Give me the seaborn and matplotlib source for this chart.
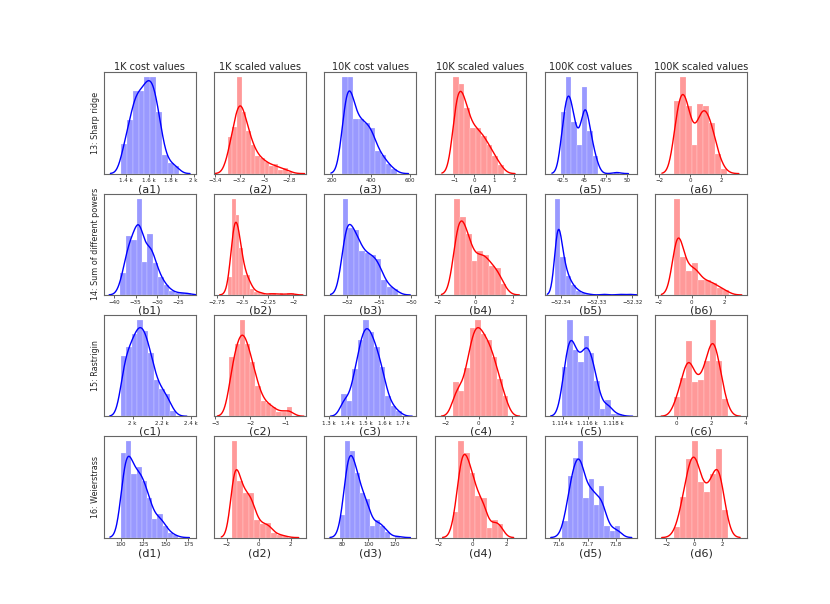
import numpy as np
import matplotlib
matplotlib.use("Agg")
import matplotlib.pyplot as plt
from matplotlib.ticker import EngFormatter
import seaborn as sns

col_titles = ["1K cost values", "1K scaled values", "10K cost values",
              "10K scaled values", "100K cost values", "100K scaled values"]
row_names = ["13: Sharp ridge", "14: Sum of different powers",
             "15: Rastrigin", "16: Weierstrass"]
row_letters = ["a", "b", "c", "d"]
n_runs = 200

# histogram: left edge of first bin, bin width, bar heights
sharp_ridge_start = [1355, -3.295, 252, -1.05, 42.22, -1.07]
sharp_ridge_width = [52, 0.037, 28, 0.28, 0.63, 0.38]
sharp_ridge_heights = [
    [87, 157, 245, 245, 288, 288, 183, 57, 30, 22],
    [110, 135, 288, 185, 125, 85, 50, 43, 35, 20, 30, 10, 18, 7],
    [283, 285, 162, 162, 145, 135, 70, 55, 30, 15],
    [288, 268, 195, 137, 137, 110, 85, 55, 25],
    [182, 288, 153, 85, 258, 125, 50, 0, 0, 0, 5],
    [218, 288, 205, 90, 212, 200, 150, 60, 18],
]
sharp_ridge_ticks = [[1400, 1600, 1800, 2000], [-3.4, -3.2, -3.0, -2.8],
                     [200, 400, 600], [-2, -1, 0, 1, 2],
                     [42.5, 45, 47.5, 50], [-2, 0, 2]]
sharp_ridge_xlim = [(1202, 2019), (-3.406, -2.666), (158.7, 631),
                    (-1.985, 2.615), (40.33, 51.19), (-2.28, 3.65)]

powers_start = [-38.6, -2.64, -52.125, -1.12, -52.3415, -1.07]
powers_width = [1.27, 0.036, 0.172, 0.31, 0.00144, 0.37]
powers_heights = [
    [63, 173, 163, 285, 98, 178, 93, 53, 28, 12, 8, 8, 4],
    [53, 288, 240, 140, 60, 58, 18, 8, 10, 5, 0, 5, 5, 0, 5, 0, 5, 5, 0],
    [288, 205, 198, 130, 128, 120, 108, 42, 28, 18],
    [285, 228, 180, 98, 133, 120, 88, 80, 28],
    [288, 113, 58, 28, 13, 6, 3, 0, 0, 3, 0, 0, 3, 0, 3, 0],
    [288, 113, 73, 93, 43, 43, 38, 23, 13],
]
powers_ticks = [[-40, -35, -30, -25], [-2.75, -2.5, -2.25, -2.0],
                [-52, -51, -50], [-2, 0, 2],
                [-52.34, -52.33, -52.32], [-2, 0, 2]]
powers_xlim = [(-42.5, -20.94), (-2.78, -1.878), (-52.7, -49.84),
               (-2.175, 2.74), (-52.3444, -52.3188), (-2.2, 3.33)]

rastrigin_start = [1920, -2.6, 1364, -1.54, 1113.92, -0.18]
rastrigin_width = [37.5, 0.15, 30, 0.33, 0.435, 0.35]
rastrigin_heights = [
    [180, 203, 243, 288, 255, 188, 108, 83, 68, 18],
    [173, 218, 288, 218, 163, 93, 43, 40, 23, 10, 13, 23],
    [66, 43, 135, 213, 273, 236, 198, 138, 53, 26, 13],
    [96, 73, 133, 248, 270, 233, 216, 168, 108, 58],
    [148, 288, 198, 163, 243, 190, 103, 21, 51, 8, 4],
    [58, 113, 216, 98, 103, 158, 275, 158, 48],
]
rastrigin_ticks = [[2000, 2200, 2400], [-3, -2, -1],
                   [1300, 1400, 1500, 1600, 1700], [-2, 0, 2],
                   [1114, 1116, 1118], [0, 2, 4]]
rastrigin_xlim = [(1802, 2432), (-3.04, -0.40), (1272.6, 1773),
                  (-2.65, 2.86), (1112.58, 1119.9), (-1.26, 4.08)]

weierstrass_start = [100, -1.69, 78.2, -1.16, 71.612, -1.45]
weierstrass_width = [5.8, 0.354, 3.85, 0.33, 0.0184, 0.43]
weierstrass_heights = [
    [254, 287, 192, 210, 167, 117, 55, 70, 32, 12, 7],
    [287, 167, 132, 132, 52, 40, 45, 12, 8, 5],
    [64, 287, 257, 192, 132, 112, 37, 52, 37, 17, 2, 4],
    [77, 287, 252, 197, 122, 117, 30, 54, 42],
    [50, 179, 234, 287, 117, 177, 97, 152, 37, 24, 37],
    [30, 124, 237, 287, 167, 134, 192, 267, 84],
]
weierstrass_ticks = [[100, 125, 150, 175], [-2, 0, 2], [80, 100, 120],
                     [-2, 0, 2], [71.6, 71.7, 71.8], [-2, 0, 2]]
weierstrass_xlim = [(80.7, 183.2), (-2.78, 2.94), (66.2, 136.5),
                    (-2.23, 3.16), (71.55, 71.873), (-2.79, 3.78)]

starts = [sharp_ridge_start, powers_start, rastrigin_start, weierstrass_start]
widths = [sharp_ridge_width, powers_width, rastrigin_width, weierstrass_width]
heights = [sharp_ridge_heights, powers_heights, rastrigin_heights, weierstrass_heights]
ticks = [sharp_ridge_ticks, powers_ticks, rastrigin_ticks, weierstrass_ticks]
xlims = [sharp_ridge_xlim, powers_xlim, rastrigin_xlim, weierstrass_xlim]

sns.set_style("white")
plt.rcParams["font.family"] = ["DejaVu Sans"]

fig, axes = plt.subplots(4, 6, figsize=(8.3, 6.04), dpi=100)

for i in range(4):
    for j in range(6):
        ax = axes[i, j]
        h = np.array(heights[i][j], dtype=float)
        edges = starts[i][j] + widths[i][j] * np.arange(len(h) + 1)
        centers = (edges[:-1] + edges[1:]) / 2
        counts = np.rint(h / h.sum() * n_runs).astype(int)
        values = np.repeat(centers, counts)
        color = "blue" if j % 2 == 0 else "red"

        sns.histplot(x=values, bins=edges, stat="density", color=color,
                     alpha=0.4, edgecolor="white", linewidth=0.15, ax=ax)
        sns.kdeplot(x=values, bw_adjust=1.1, cut=3, color=color,
                    linewidth=1, ax=ax)

        ax.set_yticks([])
        ax.set_ylabel("")
        ax.set_xticks(ticks[i][j])
        ax.set_xlim(*xlims[i][j])
        ax.xaxis.set_major_formatter(EngFormatter())
        ax.tick_params(axis="x", labelsize=4, length=2, width=0.5, pad=1.5,
                       bottom=True, colors="#222222")
        for sp in ax.spines.values():
            sp.set_color("#666666")
            sp.set_linewidth(0.8)
        ax.set_xlabel(f"({row_letters[i]}{j + 1})", fontsize=8, labelpad=0.5)
        if i == 0:
            ax.set_title(col_titles[j], fontsize=7, pad=2)
        if j == 0:
            ax.set_ylabel(row_names[i], fontsize=5.8, labelpad=3)

fig.savefig("out.png", dpi=100)
